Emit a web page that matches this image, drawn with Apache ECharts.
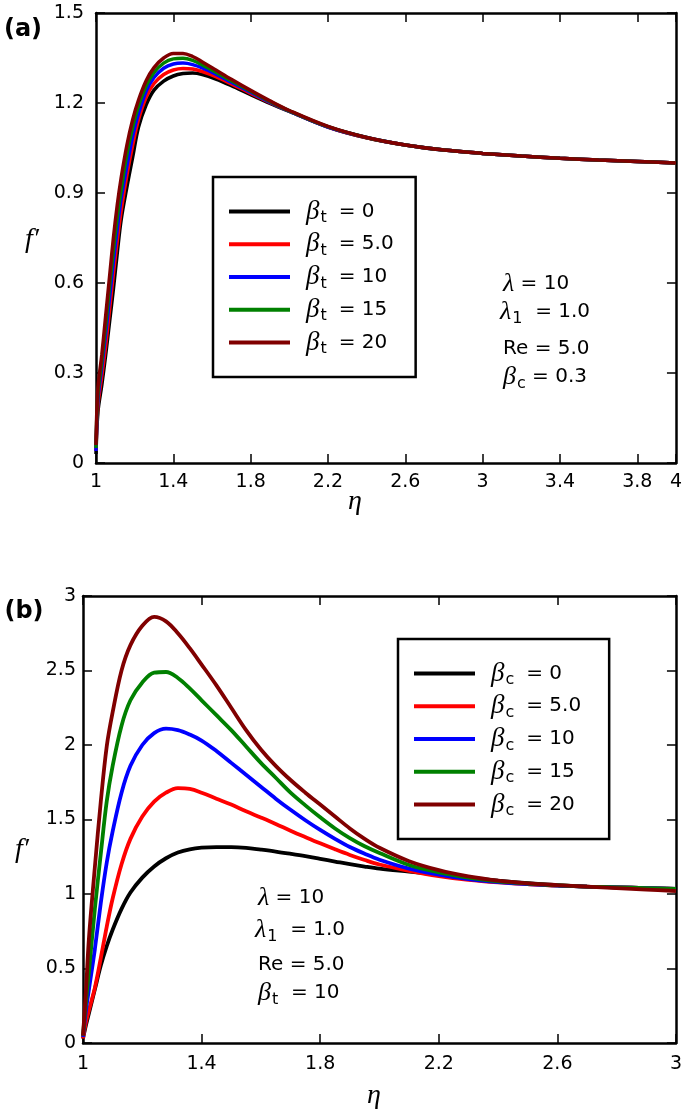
<!DOCTYPE html>
<html><head><meta charset="utf-8">
<script src="https://cdn.jsdelivr.net/npm/echarts@6/dist/echarts.min.js"></script>
<style>html,body{margin:0;padding:0;background:#fff}#c{width:685px;height:1112px}</style>
</head><body><div id="c"></div>
<script>
// ---------- Panel (a) data ----------
const etaA = [1.0, 1.01, 1.03, 1.05, 1.07, 1.09, 1.11, 1.13, 1.16, 1.19, 1.22, 1.26, 1.30, 1.35, 1.40, 1.45, 1.50, 1.55, 1.62, 1.70, 1.80, 1.90, 2.0, 2.2, 2.4, 2.6, 2.8, 3.0, 3.2, 3.4, 3.6, 3.8, 4.0];
const fA_bt0  = [0.03, 0.17, 0.26, 0.36, 0.47, 0.58, 0.70, 0.81, 0.92, 1.02, 1.12, 1.195, 1.243, 1.273, 1.29, 1.298, 1.30, 1.295, 1.28, 1.258, 1.228, 1.199, 1.172, 1.12, 1.084, 1.06, 1.043, 1.032, 1.023, 1.016, 1.01, 1.005, 1.0];
const fA_bt5  = [0.04, 0.19, 0.29, 0.39, 0.51, 0.63, 0.74, 0.84, 0.96, 1.06, 1.145, 1.22, 1.265, 1.295, 1.31, 1.315, 1.313, 1.305, 1.288, 1.264, 1.232, 1.201, 1.173, 1.12, 1.084, 1.06, 1.043, 1.032, 1.023, 1.016, 1.01, 1.005, 1.0];
const fA_bt10 = [0.04, 0.21, 0.32, 0.43, 0.55, 0.67, 0.78, 0.88, 0.99, 1.09, 1.165, 1.24, 1.285, 1.316, 1.33, 1.333, 1.328, 1.317, 1.296, 1.269, 1.236, 1.203, 1.173, 1.12, 1.085, 1.06, 1.043, 1.032, 1.023, 1.016, 1.01, 1.005, 1.0];
const fA_bt15 = [0.05, 0.23, 0.34, 0.46, 0.59, 0.71, 0.82, 0.91, 1.03, 1.12, 1.19, 1.258, 1.302, 1.333, 1.347, 1.349, 1.342, 1.327, 1.303, 1.274, 1.239, 1.205, 1.174, 1.121, 1.085, 1.06, 1.043, 1.032, 1.023, 1.016, 1.01, 1.005, 1.0];
const fA_bt20 = [0.06, 0.25, 0.36, 0.49, 0.62, 0.75, 0.86, 0.95, 1.06, 1.145, 1.21, 1.275, 1.318, 1.350, 1.365, 1.365, 1.355, 1.337, 1.31, 1.279, 1.242, 1.207, 1.175, 1.122, 1.085, 1.06, 1.043, 1.032, 1.023, 1.016, 1.01, 1.005, 1.0];
const namesA = ['βt = 0', 'βt = 5.0', 'βt = 10', 'βt = 15', 'βt = 20'];
const xTicksA = [1, 1.4, 1.8, 2.2, 2.6, 3, 3.4, 3.8, 4];
const yTicksA = [0, 0.3, 0.6, 0.9, 1.2, 1.5];

// ---------- Panel (b) data ----------
const etaB = [1.0, 1.01, 1.02, 1.04, 1.06, 1.08, 1.10, 1.13, 1.16, 1.20, 1.24, 1.28, 1.32, 1.36, 1.40, 1.45, 1.50, 1.55, 1.60, 1.65, 1.70, 1.75, 1.80, 1.85, 1.90, 1.95, 2.0, 2.1, 2.2, 2.3, 2.4, 2.5, 2.6, 2.7, 2.8, 2.9, 3.0];
const fB_bc0  = [0.03, 0.12, 0.20, 0.36, 0.52, 0.65, 0.76, 0.90, 1.01, 1.11, 1.185, 1.24, 1.278, 1.30, 1.311, 1.315, 1.315, 1.31, 1.298, 1.285, 1.27, 1.254, 1.236, 1.218, 1.2, 1.184, 1.17, 1.15, 1.13, 1.11, 1.09, 1.073, 1.06, 1.05, 1.045, 1.04, 1.035];
const fB_bc5  = [0.03, 0.14, 0.22, 0.37, 0.57, 0.78, 0.97, 1.20, 1.37, 1.52, 1.62, 1.68, 1.71, 1.705, 1.68, 1.64, 1.60, 1.555, 1.513, 1.47, 1.425, 1.382, 1.34, 1.30, 1.262, 1.228, 1.198, 1.155, 1.12, 1.095, 1.078, 1.066, 1.056, 1.05, 1.045, 1.04, 1.035];
const fB_bc10 = [0.04, 0.22, 0.36, 0.63, 0.94, 1.21, 1.42, 1.68, 1.86, 2.00, 2.08, 2.11, 2.10, 2.07, 2.03, 1.96, 1.88, 1.80, 1.72, 1.64, 1.565, 1.495, 1.43, 1.37, 1.315, 1.27, 1.23, 1.17, 1.13, 1.10, 1.08, 1.066, 1.056, 1.05, 1.045, 1.04, 1.035];
const fB_bc15 = [0.05, 0.28, 0.48, 0.90, 1.27, 1.62, 1.86, 2.13, 2.30, 2.42, 2.485, 2.49, 2.45, 2.38, 2.30, 2.20, 2.10, 1.99, 1.88, 1.78, 1.68, 1.595, 1.515, 1.44, 1.375, 1.32, 1.275, 1.195, 1.145, 1.11, 1.085, 1.07, 1.058, 1.05, 1.045, 1.04, 1.035];
const fB_bc20 = [0.05, 0.35, 0.70, 1.18, 1.62, 1.99, 2.22, 2.50, 2.67, 2.80, 2.86, 2.83, 2.75, 2.65, 2.54, 2.40, 2.25, 2.10, 1.97, 1.86, 1.765, 1.68, 1.60, 1.52, 1.44, 1.37, 1.31, 1.22, 1.16, 1.118, 1.09, 1.072, 1.06, 1.05, 1.04, 1.03, 1.02];
const namesB = ['βc = 0', 'βc = 5.0', 'βc = 10', 'βc = 15', 'βc = 20'];
const xTicksB = [1, 1.4, 1.8, 2.2, 2.6, 3];
const yTicksB = [0, 0.5, 1, 1.5, 2, 2.5, 3];

const colors = ['#000000', '#ff0000', '#0000ff', '#008000', '#800000'];

const SANS = 'DejaVu Sans';
const SERIF = 'Liberation Serif';

function axis(gi, pos, ticks, showLabel, margin) {
  return {
    type: 'value', gridIndex: gi, position: pos,
    min: ticks[0], max: ticks[ticks.length - 1],
    interval: Math.round((ticks[1] - ticks[0]) * 1000) / 1000,
    axisLine: { show: true, onZero: false, lineStyle: { color: '#000', width: 2.5 } },
    axisTick: { show: true, inside: true, length: 9, lineStyle: { color: '#000', width: 1.5 } },
    axisLabel: { show: showLabel, color: '#000', fontFamily: SANS, fontSize: 19, margin: margin },
    splitLine: { show: false }
  };
}

const richLegend = {
  b: { fontFamily: SERIF, fontStyle: 'italic', fontSize: 27, color: '#000', padding: [0, 0, 0, 11], lineHeight: 26 },
  s: { fontFamily: SANS, fontSize: 16, color: '#000', padding: [13, 0, 0, 1], lineHeight: 26 },
  e: { fontFamily: SANS, fontSize: 20, color: '#000', padding: [0, 0, 0, 12], lineHeight: 26 }
};
function legendFmt(n) {
  return '{b|' + n[0] + '}{s|' + n[1] + '}{e|' + n.slice(2).trim() + '}';
}

const richAnn = {
  g: { fontFamily: SERIF, fontStyle: 'italic', fontSize: 26, color: '#000', lineHeight: 26 },
  s: { fontFamily: SANS, fontSize: 16, color: '#000', padding: [13, 0, 0, 1], lineHeight: 26 },
  t: { fontFamily: SANS, fontSize: 20, color: '#000', lineHeight: 26 }
};
function ann(x, y, str) {
  return { type: 'text', x: x, y: y, style: { text: str, rich: richAnn, verticalAlign: 'middle', align: 'left' } };
}
function plain(x, y, str, font, size, style, weight) {
  return { type: 'text', x: x, y: y, style: { text: str, fontFamily: font, fontSize: size, fontStyle: style || 'normal', fontWeight: weight || 'normal', fill: '#000', align: 'center', verticalAlign: 'middle' } };
}

function mk(eta, vals) { return eta.map((x, i) => [x, vals[i]]); }

const seriesA = [fA_bt0, fA_bt5, fA_bt10, fA_bt15, fA_bt20].map((v, i) => ({
  name: namesA[i], type: 'line', xAxisIndex: 0, yAxisIndex: 0, data: mk(etaA, v),
  showSymbol: false, smooth: 0.35, lineStyle: { width: 3.5, color: colors[i] }, itemStyle: { color: colors[i] }
}));
const seriesB = [fB_bc0, fB_bc5, fB_bc10, fB_bc15, fB_bc20].map((v, i) => ({
  name: namesB[i], type: 'line', xAxisIndex: 2, yAxisIndex: 2, data: mk(etaB, v),
  showSymbol: false, smooth: 0.35, lineStyle: { width: 3.8, color: colors[i] }, itemStyle: { color: colors[i] }
}));

const chart = echarts.init(document.getElementById('c'), null, { renderer: 'canvas' });
chart.setOption({
  animation: false,
  backgroundColor: '#fff',
  grid: [
    { left: 96, right: 3, top: 13, bottom: 649 },
    { left: 83, right: 2, top: 596, bottom: 69 }
  ],
  xAxis: [
    axis(0, 'bottom', xTicksA, true, 10),
    axis(0, 'top', xTicksA, false, 10),
    axis(1, 'bottom', xTicksB, true, 12),
    axis(1, 'top', xTicksB, false, 10)
  ],
  yAxis: [
    axis(0, 'left', yTicksA, true, 12),
    axis(0, 'right', yTicksA, false, 10),
    axis(1, 'left', yTicksB, true, 7),
    axis(1, 'right', yTicksB, false, 10)
  ],
  legend: [
    {
      data: namesA, orient: 'vertical', left: 213, top: 177, itemWidth: 61, itemHeight: 4, icon: 'rect',
      itemGap: 3.75, padding: [20, 22, 20, 16], borderColor: '#000', borderWidth: 2.5, backgroundColor: '#fff',
      formatter: legendFmt, textStyle: { rich: richLegend }, selectedMode: false
    },
    {
      data: namesB, orient: 'vertical', left: 398, top: 639, itemWidth: 61, itemHeight: 4, icon: 'rect',
      itemGap: 3.75, padding: [20, 28, 20, 16], borderColor: '#000', borderWidth: 2.5, backgroundColor: '#fff',
      formatter: legendFmt, textStyle: { rich: richLegend }, selectedMode: false
    }
  ],
  graphic: [
    plain(23, 30, '(a)', SANS, 24, 'normal', 'bold'),
    plain(24, 612, '(b)', SANS, 24, 'normal', 'bold'),
    plain(32, 240, 'f′', SERIF, 28, 'italic'),
    plain(22, 850, 'f′', SERIF, 28, 'italic'),
    plain(355, 502, 'η', SERIF, 28, 'italic'),
    plain(374, 1096, 'η', SERIF, 28, 'italic'),
    ann(503, 284, '{g|λ}{t| = 10}'),
    ann(500, 312, '{g|λ}{s|1}{t|  = 1.0}'),
    ann(503, 349, '{t|Re = 5.0}'),
    ann(503, 377, '{g|β}{s|c}{t| = 0.3}'),
    ann(258, 898, '{g|λ}{t| = 10}'),
    ann(255, 930, '{g|λ}{s|1}{t|  = 1.0}'),
    ann(258, 965, '{t|Re = 5.0}'),
    ann(258, 993, '{g|β}{s|t}{t|  = 10}')
  ],
  series: seriesA.concat(seriesB)
});
</script>
</body></html>
